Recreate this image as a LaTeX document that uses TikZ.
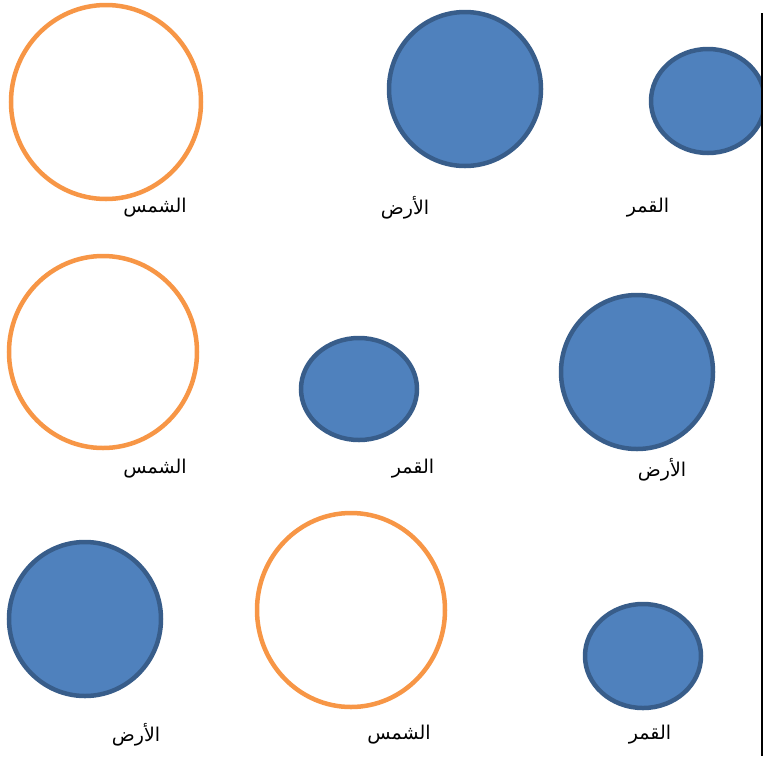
\documentclass[tikz,border=0pt]{standalone}
\usepackage{fontspec}
\newfontfamily\arabicfont[Script=Arabic]{DejaVu Sans}
\TeXXeTstate=1
\definecolor{sunorange}{HTML}{F79646}
\definecolor{bodyblue}{HTML}{4F81BD}
\definecolor{bodyedge}{HTML}{385D8A}
\begin{document}
\begin{tikzpicture}[x=1pt,y=-1pt,
  sun/.style={draw=sunorange,line width=4.5pt,fill=white},
  body/.style={draw=bodyedge,line width=4.5pt,fill=bodyblue},
  lbl/.style={font=\arabicfont\fontsize{19}{22}\selectfont,inner sep=0pt,anchor=center}]
\useasboundingbox (0,0) rectangle (763,756);
% row 1
\draw[sun] (106,102) ellipse [x radius=95,y radius=97];
\draw[body] (465,89) ellipse [x radius=76,y radius=77];
\begin{scope}
\clip (0,0) rectangle (761,756);
\draw[body] (708,101) ellipse [x radius=57,y radius=52];
\end{scope}
\node[lbl] (s1) at (155,208) {\beginR الشمس\endR};
\node[lbl] (e1) at (405,208) {\beginR الأرض\endR};
\node[lbl] (m1) at (648,208) {\beginR القمر\endR};
% row 2
\draw[sun] (103,352) ellipse [x radius=94,y radius=96];
\draw[body] (359,389) ellipse [x radius=58,y radius=51];
\draw[body] (637,372) ellipse [x radius=76,y radius=77];
\node[lbl] (s2) at (155,469) {\beginR الشمس\endR};
\node[lbl] (m2) at (413,469) {\beginR القمر\endR};
\node[lbl] (e2) at (662,470) {\beginR الأرض\endR};
% row 3
\draw[body] (85,619) ellipse [x radius=76,y radius=77];
\draw[sun] (351,610) ellipse [x radius=94,y radius=97];
\draw[body] (643,656) ellipse [x radius=58,y radius=52];
\node[lbl] (e3) at (136,735) {\beginR الأرض\endR};
\node[lbl] (s3) at (399,735) {\beginR الشمس\endR};
\node[lbl] (m3) at (650,735) {\beginR القمر\endR};
% right edge line
\draw[line width=1.5pt] (762,13) -- (762,756);
\end{tikzpicture}
\end{document}
